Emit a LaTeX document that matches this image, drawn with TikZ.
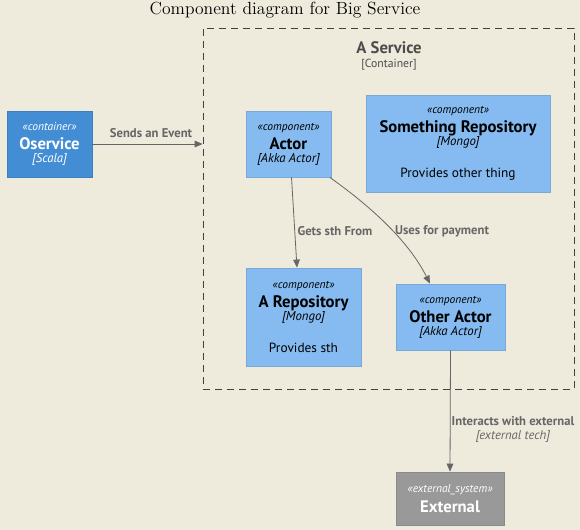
\documentclass[tikz,border=0pt]{standalone}
\usepackage{fontspec}
\setsansfont{PT Sans}
\usepackage{xcolor}
\usepackage{tikz}
\usetikzlibrary{positioning, arrows.meta}
\definecolor{paper}{HTML}{EEEBDC}
\definecolor{contblue}{HTML}{438DD5}
\definecolor{contline}{HTML}{3C7FC0}
\definecolor{compblue}{HTML}{85BBF0}
\definecolor{compline}{HTML}{78A8D8}
\definecolor{extgray}{HTML}{999999}
\definecolor{extline}{HTML}{8A8A8A}
\definecolor{relgray}{HTML}{666666}
\definecolor{inkdark}{HTML}{000000}

\tikzset{
  compbox/.style={fill=compblue, draw=compline, line width=0.6pt, align=center,
    inner sep=0pt, text=inkdark, font=\sffamily\fontsize{10}{11}\selectfont},
  contbox/.style={fill=contblue, draw=contline, line width=0.6pt, align=center,
    inner sep=0pt, text=white, font=\sffamily\fontsize{10}{11}\selectfont},
  extbox/.style={fill=extgray, draw=extline, line width=0.6pt, align=center,
    inner sep=0pt, text=white, font=\sffamily\fontsize{10}{11}\selectfont},
  rel/.style={draw=relgray, line width=0.6pt, -{Triangle[length=6pt, width=5pt]}},
  rellabel/.style={text=relgray, font=\sffamily\bfseries\fontsize{9.5}{11}\selectfont, align=center, inner sep=1pt}
}
\newcommand{\cstereo}[1]{{\itshape\fontsize{8.6}{10}\selectfont «#1»}}
\newcommand{\cname}[1]{{\bfseries\fontsize{12.5}{14}\selectfont #1}}
\newcommand{\ctech}[1]{{\itshape\fontsize{9.6}{11}\selectfont [#1]}}

\begin{document}
\begin{tikzpicture}[x=0.75pt, y=-0.75pt]
    \fill[paper] (0,0) rectangle (580,530);
    \useasboundingbox (0,0) rectangle (580,530);

    % title
    \node (title) at (285,10) {\fontsize{13.2}{15}\selectfont Component diagram for Big Service};

    % container boundary
    \node[draw=black!75, line width=0.6pt, dash pattern=on 5pt off 4pt,
          minimum width=278.25pt, minimum height=270.75pt, inner sep=0pt] (svc) at (388.5,208.5) {};
    \node[text=black!70, align=center, font=\sffamily] (svclabel) at (389,56)
      {{\bfseries\fontsize{12.5}{14}\selectfont A Service}\\[-2pt]{\fontsize{8.8}{10}\selectfont [Container]}};

    % nodes
    \node[contbox, minimum width=63.75pt, minimum height=49.5pt] (oservice) at (49.5,144)
      {\cstereo{container}\\[3.5pt]\cname{Oservice}\\[-1.5pt]\ctech{Scala}};
    \node[compbox, minimum width=63.75pt, minimum height=49.5pt] (actor) at (288.5,144)
      {\cstereo{component}\\[3.5pt]\cname{Actor}\\[-1.5pt]\ctech{Akka Actor}};
    \node[compbox, minimum width=138pt, minimum height=72.75pt] (somerepo) at (458,143.5)
      {\cstereo{component}\\[3.5pt]\cname{Something Repository}\\[-1.5pt]\ctech{Mongo}\\[13pt]Provides other thing};
    \node[compbox, minimum width=86.25pt, minimum height=73.5pt] (arepo) at (303.5,317)
      {\cstereo{component}\\[3.5pt]\cname{A Repository}\\[-1.5pt]\ctech{Mongo}\\[13pt]Provides sth};
    \node[compbox, minimum width=81.75pt, minimum height=49.5pt] (otheractor) at (450.5,317)
      {\cstereo{component}\\[3.5pt]\cname{Other Actor}\\[-1.5pt]\ctech{Akka Actor}};
    \node[extbox, minimum width=81pt, minimum height=39.75pt] (external) at (450,498.5)
      {\cstereo{external\_system}\\[3.5pt]\cname{External}};

    % relations
    \draw[rel] (oservice.east) -- (oservice.east -| svc.west);
    \node[rellabel] (lsends) at (151,133) {Sends an Event};

    \draw[rel] ([xshift=2.25pt]actor.south) -- ([xshift=-4.9pt]arepo.north);
    \node[rellabel] (lgets) at (335,231) {Gets sth From};

    \draw[rel] ([xshift=31pt]actor.south) .. controls (370,206) and (408,240) .. ([xshift=-15.4pt]otheractor.north);
    \node[rellabel] (luses) at (442,231) {Uses for payment};

    \draw[rel] (otheractor.south) -- (external.north);
    \node[rellabel] (linter) at (513,429) {Interacts with external\\[-0.5pt]{\mdseries\itshape [external tech]}};
  \end{tikzpicture}
\end{document}
